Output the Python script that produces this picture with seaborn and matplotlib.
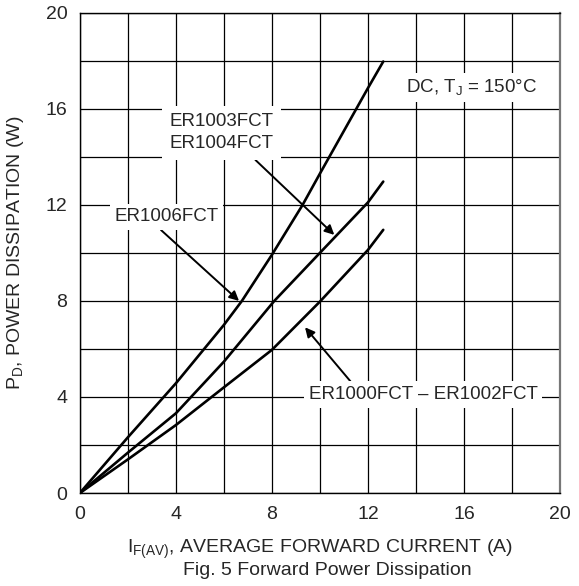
import matplotlib
matplotlib.use("Agg")
import matplotlib.pyplot as plt
import numpy as np
import pandas as pd
import seaborn as sns

# curve values (I in A, P in W)
i_1006 = [0, 2, 4, 6, 6.75, 8, 9.28, 10, 12, 12.64]
p_1006 = [0, 2.32, 4.57, 7.0, 8.0, 9.92, 12.0, 13.3, 16.86, 17.97]

i_1003 = [0, 2, 4, 6, 8.1, 10, 12, 12.64]
p_1003 = [0, 1.68, 3.32, 5.47, 8.0, 10.0, 12.1, 12.97]

i_1000 = [0, 2, 4, 6, 8, 10, 12, 12.64]
p_1000 = [0, 1.4, 2.83, 4.4, 5.96, 7.97, 10.12, 10.96]

series_names = ["ER1006FCT", "ER1003FCT/ER1004FCT", "ER1000FCT - ER1002FCT"]

x_ticks = [0, 4, 8, 12, 16, 20]
y_ticks = [0, 4, 8, 12, 16, 20]

frames = []
for name, xs, ys in zip(series_names, [i_1006, i_1003, i_1000], [p_1006, p_1003, p_1000]):
    frames.append(pd.DataFrame({"I": xs, "P": ys, "device": name}))
df = pd.concat(frames, ignore_index=True)

sns.set_style("white")
plt.rcParams["font.family"] = ["Liberation Sans", "DejaVu Sans"]
plt.rcParams["mathtext.fontset"] = "custom"
plt.rcParams["mathtext.rm"] = "Liberation Sans"
plt.rcParams["mathtext.it"] = "Liberation Sans:italic"

fig = plt.figure(figsize=(5.79, 5.86), dpi=100)
ax = fig.add_axes([0.138, 0.1587, 0.829, 0.8195])

sns.lineplot(data=df, x="I", y="P", hue="device", sort=False,
             palette=["black"] * 3, linewidth=1.9, legend=False, ax=ax)

ax.set_xlim(0, 20)
ax.set_ylim(0, 20)
ax.set_xticks(np.arange(0, 21, 2))
ax.set_yticks(np.arange(0, 21, 2))
ax.set_xticklabels([str(t) if t in x_ticks else "" for t in range(0, 21, 2)])
ax.set_yticklabels([str(t) if t in y_ticks else "" for t in range(0, 21, 2)])
ax.grid(True, color="black", linewidth=0.9)
ax.set_axisbelow(True)
ax.tick_params(length=0, labelsize=14, pad=9)
for s in ["left", "bottom", "top"]:
    ax.spines[s].set_color("black")
    ax.spines[s].set_linewidth(1.0)
ax.spines["right"].set_color("#777777")
ax.spines["right"].set_linewidth(1.6)

ax.set_xlabel(r"$\mathregular{I_{F(AV)}}$, AVERAGE FORWARD CURRENT (A)", fontsize=14, labelpad=11)
ax.set_ylabel(r"$\mathregular{P_D}$, POWER DISSIPATION (W)", fontsize=14, labelpad=14)
fig.text(0.565, 0.027, "Fig. 5 Forward Power Dissipation", ha="center", va="center", fontsize=14)

box = dict(boxstyle="square,pad=0.25", fc="white", ec="none")
arrow = dict(arrowstyle="-|>", color="black", lw=1.4, mutation_scale=14, shrinkA=0, shrinkB=0)

ax.text(16.3, 16.9, r"DC, $\mathregular{T_J}$ = 150°C", ha="center", va="center", fontsize=13.5, bbox=box)

ax.annotate("ER1003FCT\nER1004FCT", xy=(10.6, 10.75), xytext=(5.9, 15.0),
            ha="center", va="center", fontsize=13.5, linespacing=1.4,
            bbox=dict(boxstyle="square,pad=0.4", fc="white", ec="none"),
            arrowprops=dict(arrow, relpos=(0.75, 0.0)))

ax.annotate("ER1006FCT", xy=(6.63, 8.0), xytext=(3.6, 11.5),
            ha="center", va="center", fontsize=13.5, bbox=box,
            arrowprops=dict(arrow, relpos=(0.4, 0.0)))

ax.annotate("ER1000FCT – ER1002FCT", xy=(9.38, 6.9), xytext=(14.3, 4.1),
            ha="center", va="center", fontsize=13.5, bbox=box,
            arrowprops=dict(arrow, relpos=(0.2, 1.0)))

fig.savefig("out.png", dpi=100)
